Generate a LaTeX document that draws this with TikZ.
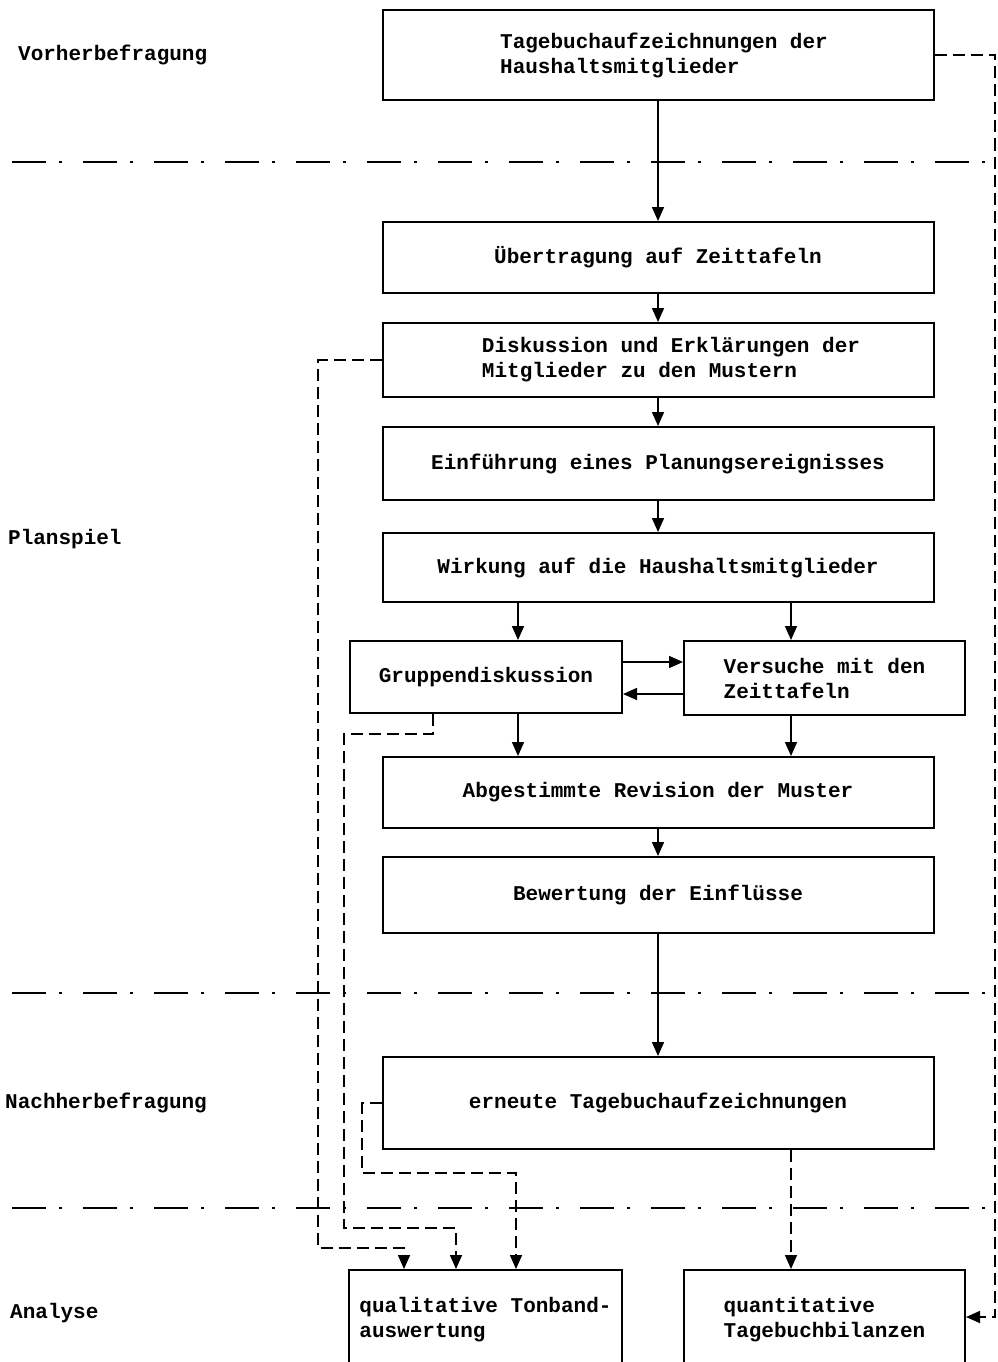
\documentclass[tikz,border=0pt]{standalone}
\usepackage{fontspec}
\setmonofont{Liberation Mono}
\usetikzlibrary{arrows.meta}
% typewriter face used for every label
\newcommand\typew{\ttfamily\bfseries\fontsize{21}{25}\selectfont}
\tikzset{
  box/.style={draw, rectangle, line width=2pt, inner sep=0pt, align=left, font=\typew},
  phase/.style={anchor=west, inner sep=0pt, font=\typew},
  arr/.style={line width=1.6pt, -{Triangle[length=14pt,width=12pt]}},
  dsh/.style={dash pattern=on 12pt off 6pt},
  sep/.style={line width=2.2pt, dash pattern=on 34pt off 13pt on 3pt off 21pt}
}
\begin{document}
\begin{tikzpicture}[x=1pt,y=-1pt]
\useasboundingbox (0,0) rectangle (998,1362);
\clip (0,0) rectangle (998,1362);
\fill[white] (0,0) rectangle (998,1362);

% phase labels on the left
\node[phase] (pVor)  at (18,55)   {Vorherbefragung};
\node[phase] (pPlan) at (8,539)   {Planspiel};
\node[phase] (pNach) at (5,1103)  {Nachherbefragung};
\node[phase] (pAna)  at (10,1313) {Analyse};

% phase separators
\draw[sep] (12,162)  -- (998,162);
\draw[sep] (12,993)  -- (998,993);
\draw[sep] (12,1208) -- (998,1208);

% process boxes
\node[box, minimum width=551pt, minimum height=90pt] (b1) at (658,55)
  {\hspace*{12pt}Tagebuchaufzeichnungen der\\\hspace*{12pt}Haushaltsmitglieder};
\node[box, minimum width=551pt, minimum height=71pt] (b2) at (658,257.5)
  {Übertragung auf Zeittafeln};
\node[box, minimum width=551pt, minimum height=74pt] (b3) at (658,360)
  {\hspace*{26pt}Diskussion und Erklärungen der\\\hspace*{26pt}Mitglieder zu den Mustern};
\node[box, minimum width=551pt, minimum height=73pt] (b4) at (658,463.5)
  {Einführung eines Planungsereignisses};
\node[box, minimum width=551pt, minimum height=69pt] (b5) at (658,567.5)
  {Wirkung auf die Haushaltsmitglieder};
\node[box, minimum width=272pt, minimum height=72pt] (g) at (486,677)
  {Gruppendiskussion};
\node[box, minimum width=281pt, minimum height=74pt] (v) at (824.5,678)
  {Versuche mit den\\Zeittafeln};
\node[box, minimum width=551pt, minimum height=71pt] (rev) at (658,792.5)
  {Abgestimmte Revision der Muster};
\node[box, minimum width=551pt, minimum height=76pt] (bew) at (658,895)
  {Bewertung der Einflüsse};
\node[box, minimum width=551pt, minimum height=92pt] (ern) at (658,1103)
  {erneute Tagebuchaufzeichnungen};
\node[box, minimum width=273pt, minimum height=100pt] (ton) at (485.5,1320)
  {qualitative Tonband-\\auswertung};
\node[box, minimum width=281pt, minimum height=100pt] (qua) at (824.5,1320)
  {quantitative\\Tagebuchbilanzen};

% columns and rows for the routed connectors
\coordinate (cL) at (518,0);
\coordinate (cR) at (791,0);
\coordinate (rTo) at (0,662);
\coordinate (rBack) at (0,694);
\coordinate (xA) at (318,0);
\coordinate (yA) at (0,1248);
\coordinate (xB) at (404,0);
\coordinate (xC) at (433,0);
\coordinate (yC) at (0,734);
\coordinate (xD) at (344,0);
\coordinate (yD) at (0,1228);
\coordinate (xE) at (456,0);
\coordinate (xF) at (362,0);
\coordinate (yF) at (0,1173);
\coordinate (xG) at (516,0);
\coordinate (xR) at (995,0);
\coordinate (yR) at (0,1317);

% main sequence
\draw[arr] (b1) -- (b2);
\draw[arr] (b2) -- (b3);
\draw[arr] (b3) -- (b4);
\draw[arr] (b4) -- (b5);
\draw[arr] (b5.south -| cL) -- (cL |- g.north);
\draw[arr] (b5.south -| cR) -- (cR |- v.north);
\draw[arr] (g.east |- rTo) -- (v.west |- rTo);
\draw[arr] (v.west |- rBack) -- (g.east |- rBack);
\draw[arr] (g.south -| cL) -- (cL |- rev.north);
\draw[arr] (v.south -| cR) -- (cR |- rev.north);
\draw[arr] (rev) -- (bew);
\draw[arr] (bew) -- (ern);

% dashed feeds into the analysis
\draw[arr, dsh] (ern.south -| cR) -- (cR |- qua.north);
\draw[arr, dsh] (ern.west) -| (xF |- yF) -| (xG |- ton.north);
\draw[arr, dsh] (b3.west) -| (xA |- yA) -| (xB |- ton.north);
\draw[arr, dsh] (g.south -| xC) |- (xD |- yC) |- (xE |- yD) -- (xE |- ton.north);
\draw[arr, dsh] (b1.east) -| (xR |- yR) -- (qua.east |- yR);
\end{tikzpicture}
\end{document}
